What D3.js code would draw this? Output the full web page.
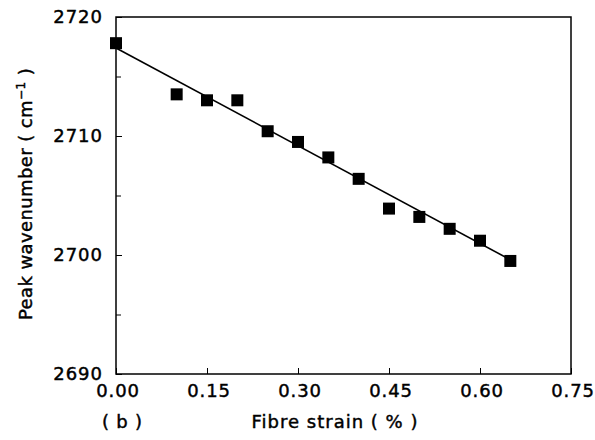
<!DOCTYPE html>
<html>
<head>
<meta charset="utf-8">
<script src="https://cdn.jsdelivr.net/npm/d3@7"></script>
<style>
  body { margin: 0; background: #fff; }
  text { font-family: "DejaVu Sans", sans-serif; fill: #000; stroke: #000; stroke-width: 0.45px; }
</style>
</head>
<body>
<svg id="chart" width="595" height="440"></svg>
<script>
// measured points
const strain = [0, 0.10, 0.15, 0.20, 0.25, 0.30, 0.35, 0.40, 0.45, 0.50, 0.55, 0.60, 0.65];
const wavenumber = [2717.8, 2713.5, 2713.0, 2713.0, 2710.4, 2709.5, 2708.2, 2706.4, 2703.9, 2703.2, 2702.2, 2701.2, 2699.5];
// fitted line end points
const fitX = [0, 0.65];
const fitY = [2717.4, 2699.6];
const xTicks = [0, 0.15, 0.30, 0.45, 0.60, 0.75];
const yTicks = [2690, 2700, 2710, 2720];
const yMinor = [2695, 2705, 2715];

let svg = d3.select('#chart'),
    mLeft = 116, mRight = 571, mTop = 17, mBottom = 374;

let x = d3.scaleLinear().domain([0, 0.75]).range([mLeft, mRight]);
let y = d3.scaleLinear().domain([2690, 2720]).range([mBottom, mTop]);

// frame
svg.append('rect')
    .attr('x', mLeft).attr('y', mTop)
    .attr('width', mRight - mLeft).attr('height', mBottom - mTop)
    .attr('fill', 'none').attr('stroke', '#000').attr('stroke-width', 1.5);

// x axis (inward ticks)
let xAxis = svg.append('g')
    .attr('transform', 'translate(0,' + mBottom + ')')
    .call(d3.axisBottom(x).tickValues(xTicks).tickSize(-6).tickPadding(10)
        .tickFormat(d3.format('.2f')));
xAxis.select('.domain').remove();
xAxis.selectAll('text').attr('font-size', 18).attr('letter-spacing', 0.8)
    .attr('dx', 1.5).style('font-family', '"DejaVu Sans", sans-serif');

// y axis (inward ticks)
let yAxis = svg.append('g')
    .attr('transform', 'translate(' + mLeft + ',0)')
    .call(d3.axisLeft(y).tickValues(yTicks).tickSize(-6).tickPadding(13)
        .tickFormat(d3.format('d')));
yAxis.select('.domain').remove();
yAxis.selectAll('text').attr('font-size', 18).attr('letter-spacing', 1)
    .style('font-family', '"DejaVu Sans", sans-serif');

svg.append('g')
    .attr('transform', 'translate(' + mLeft + ',0)')
    .call(d3.axisLeft(y).tickValues(yMinor).tickSize(-5).tickFormat(''))
    .select('.domain').remove();

// fit line
svg.append('path')
    .datum(d3.zip(fitX, fitY))
    .attr('fill', 'none').attr('stroke', '#000').attr('stroke-width', 1.6)
    .attr('d', d3.line().x(d => x(d[0])).y(d => y(d[1])));

// markers
let s = 12;
svg.append('g').selectAll('rect')
    .data(d3.zip(strain, wavenumber))
    .enter().append('rect')
    .attr('x', d => x(d[0]) - s / 2)
    .attr('y', d => y(d[1]) - s / 2)
    .attr('width', s).attr('height', s)
    .attr('fill', '#000');

// titles
svg.append('text')
    .attr('x', 335).attr('y', 428)
    .attr('text-anchor', 'middle').attr('font-size', 18).attr('letter-spacing', 1)
    .text('Fibre strain ( % )');

svg.append('text')
    .attr('x', 102).attr('y', 428)
    .attr('font-size', 18).attr('letter-spacing', 0.8)
    .text('( b )');

let yt = svg.append('text')
    .attr('transform', 'translate(32,194) rotate(-90)')
    .attr('text-anchor', 'middle').attr('font-size', 18).attr('letter-spacing', 0.4);
yt.append('tspan').text('Peak wavenumber ( cm');
yt.append('tspan').attr('font-size', 12).attr('dy', -7).text('\u22121');
yt.append('tspan').attr('dy', 7).text(' )');
</script>
</body>
</html>
